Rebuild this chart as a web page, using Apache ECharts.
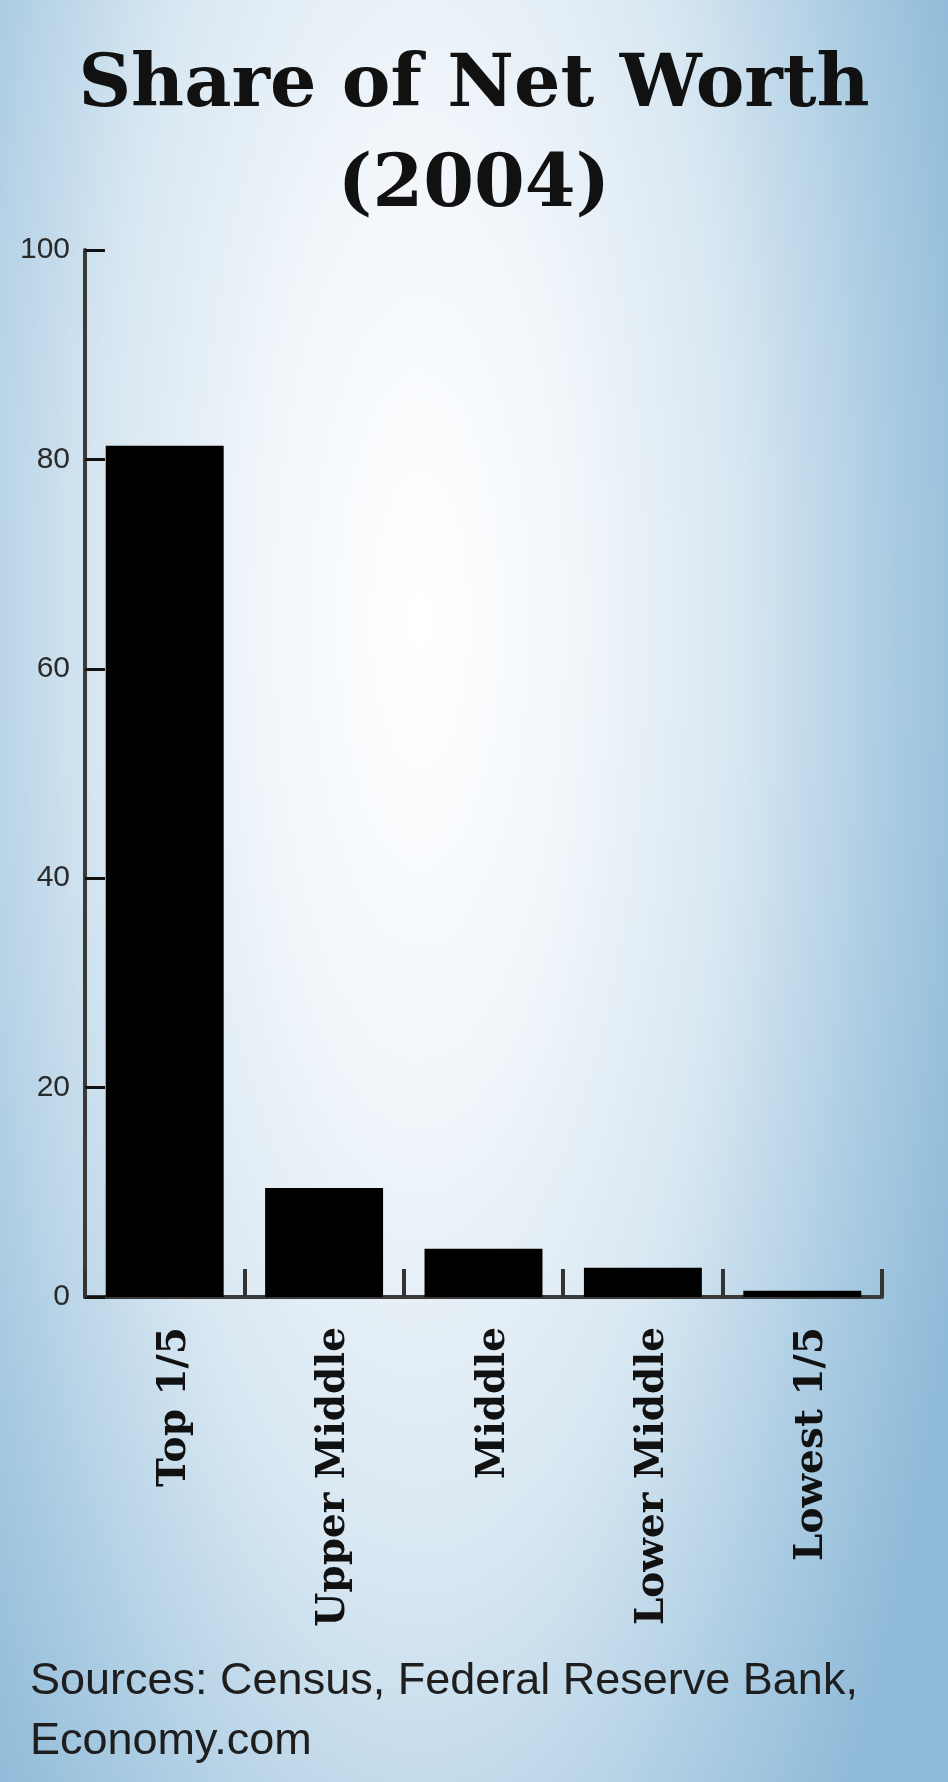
<!DOCTYPE html>
<html>
<head>
<meta charset="utf-8">
<script src="https://cdn.jsdelivr.net/npm/echarts@6/dist/echarts.min.js"></script>
<style>
  html, body { margin: 0; padding: 0; }
  #chart {
    width: 948px;
    height: 1782px;
    background: radial-gradient(ellipse 580px 1750px at 420px 620px, #ffffff 0%, #f3f7fb 25%, #d8e7f2 55%, #a9cbe2 82%, #8fbad8 100%);
  }
</style>
</head>
<body>
<div id="chart"></div>
<script>
const categories = ['Top 1/5', 'Upper Middle', 'Middle', 'Lower Middle', 'Lowest 1/5'];
const shares = [81.3, 10.4, 4.6, 2.8, 0.6];
const yTicks = [0, 20, 40, 60, 80, 100];

const chart = echarts.init(document.getElementById('chart'), null, { renderer: 'canvas' });

const option = {
  animation: false,
  backgroundColor: 'transparent',
  title: {
    text: 'Share of Net Worth\n(2004)',
    left: 'center',
    top: 32,
    textStyle: {
      fontFamily: 'DejaVu Serif',
      fontWeight: 'bold',
      fontSize: 73,
      lineHeight: 100,
      color: '#111',
    },
  },
  grid: {
    left: 85,
    right: 66,
    top: 250,
    bottom: 485,
    containLabel: false,
  },
  xAxis: {
    type: 'category',
    data: categories,
    axisLine: { lineStyle: { color: '#3a3a3a', width: 4 } },
    axisTick: {
      show: true,
      inside: true,
      length: 28,
      lineStyle: { color: '#333', width: 4 },
    },
    axisLabel: {
      rotate: 90,
      margin: 30,
      verticalAlign: 'top',
      lineHeight: 20,
      fontFamily: 'DejaVu Serif',
      fontWeight: 'bold',
      fontSize: 39,
      color: '#111',
    },
  },
  yAxis: {
    type: 'value',
    min: yTicks[0],
    max: yTicks[yTicks.length - 1],
    interval: 20,
    splitLine: { show: false },
    axisLine: { show: true, lineStyle: { color: '#3a3a3a', width: 4 } },
    axisTick: {
      show: true,
      inside: true,
      length: 20,
      lineStyle: { color: '#111', width: 3 },
    },
    axisLabel: {
      margin: 15,
      fontFamily: 'Liberation Sans',
      fontSize: 30,
      color: '#2a2a2a',
    },
  },
  series: [
    {
      name: 'Share',
      type: 'bar',
      data: shares,
      barCategoryGap: '26%',
      itemStyle: { color: '#000' },
    },
  ],
  graphic: {
    elements: [
      {
        type: 'text',
        left: 30,
        top: 1652,
        style: {
          text: 'Sources: Census, Federal Reserve Bank,\nEconomy.com',
          fontFamily: 'Liberation Sans',
          fontSize: 45,
          lineHeight: 60,
          fill: '#1e1e1e',
        },
      },
    ],
  },
};

chart.setOption(option);
</script>
</body>
</html>
